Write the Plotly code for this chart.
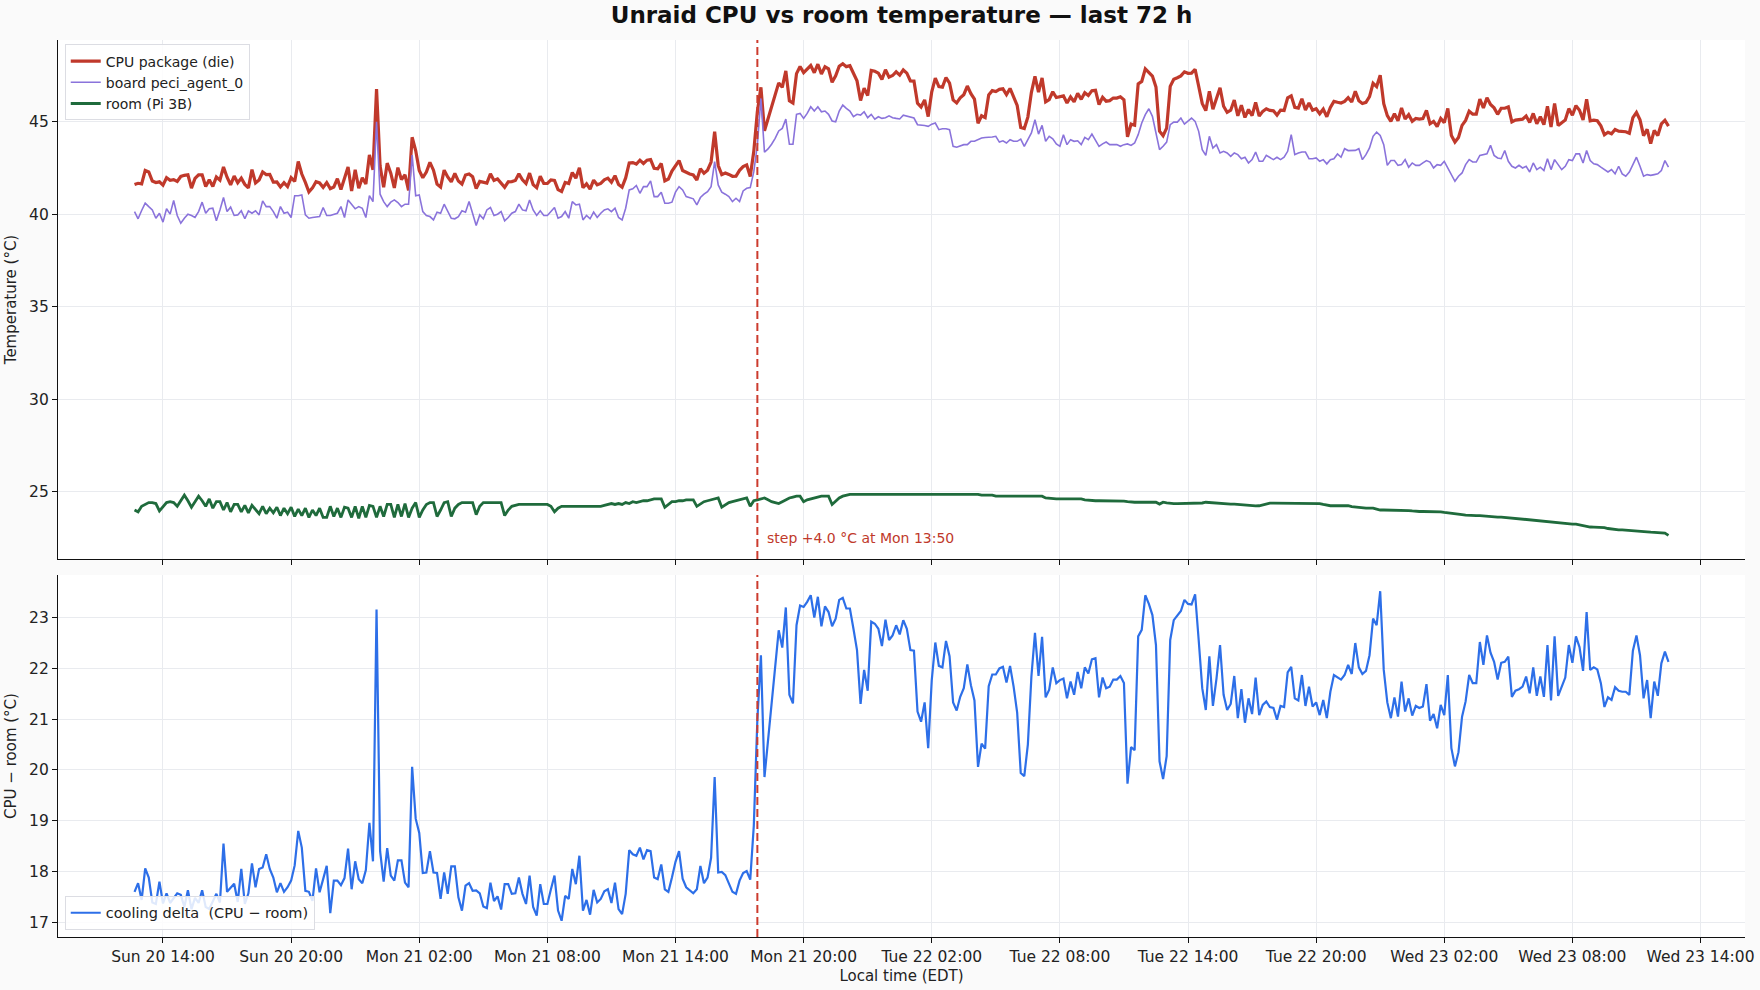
import pandas as pd
import plotly.graph_objects as go
from plotly.subplots import make_subplots

FONT = "DejaVu Sans"
START = "2025-07-20 12:40"     # first sample, local time (EDT)
SAMPLE = "10min"
STEP_AT = "2025-07-21 17:50"
STEP_LABEL = "step +4.0 °C at Mon 13:50"

# ── readings (°C), one every 10 min over 72 h ──
cpu_die_c = [
    41.6, 41.67, 41.64, 42.36, 42.28, 41.79, 41.71, 41.75, 41.57, 41.97, 41.83, 41.87,
    41.77, 42.04, 42.1, 42.13, 41.41, 41.93, 42.13, 42.13, 41.5, 41.86, 41.5, 42.01,
    41.84, 42.55, 42.0, 41.59, 42.06, 41.7, 41.95, 41.61, 41.42, 42.41, 41.69, 41.85,
    42.28, 42.14, 42.15, 41.73, 41.74, 41.47, 41.7, 41.49, 41.97, 41.77, 42.85, 42.17,
    41.72, 41.2, 41.42, 41.76, 41.69, 41.45, 41.71, 41.38, 41.47, 41.92, 41.33, 42.02,
    42.55, 41.25, 42.4, 41.4, 41.97, 41.63, 43.21, 42.4, 46.76, 42.6, 41.45, 42.76,
    42.22, 41.42, 42.52, 41.87, 42.13, 41.29, 44.16, 43.44, 42.36, 41.97, 42.28, 42.8,
    42.38, 41.62, 41.46, 42.38, 42.01, 41.75, 42.2, 41.79, 41.63, 42.12, 42.17, 42.02,
    41.38, 41.77, 41.71, 41.68, 42.18, 41.82, 41.91, 41.65, 41.45, 41.75, 41.76, 41.82,
    42.18, 41.86, 41.66, 42.22, 41.6, 41.43, 42.05, 41.66, 41.66, 41.85, 41.82, 41.33,
    41.23, 41.72, 41.66, 42.25, 41.95, 42.51, 41.43, 41.64, 41.35, 41.84, 41.59, 41.66,
    41.86, 41.95, 41.73, 42.08, 41.61, 41.46, 41.96, 42.77, 42.79, 42.71, 42.92, 42.74,
    42.92, 42.95, 42.48, 42.45, 42.74, 41.8, 41.9, 42.33, 42.64, 42.9, 42.36, 42.24,
    42.17, 42.12, 41.85, 42.46, 42.22, 42.38, 42.82, 44.46, 42.63, 42.14, 42.23, 42.15,
    42.05, 42.06, 42.37, 42.57, 42.66, 42.04, 43.4, 45.54, 46.86, 44.51, 45.14, 45.7,
    46.38, 47.1, 46.86, 47.75, 46.13, 46.01, 47.6, 47.99, 47.66, 47.86, 48.04, 47.65,
    48.11, 47.58, 47.97, 47.86, 47.13, 47.48, 48.0, 48.14, 47.98, 48.03, 47.63, 47.21,
    46.15, 46.82, 46.41, 47.77, 47.73, 47.63, 47.29, 47.81, 47.41, 47.5, 47.7, 47.52,
    47.8, 47.63, 47.21, 47.2, 46.0, 45.8, 46.18, 45.28, 46.62, 47.36, 46.9, 46.87,
    47.39, 47.09, 46.18, 46.02, 46.29, 46.46, 46.93, 46.52, 46.22, 44.91, 45.32, 45.22,
    46.45, 46.68, 46.63, 46.75, 46.78, 46.47, 46.8, 46.39, 45.88, 44.69, 44.63, 45.25,
    46.59, 47.45, 46.6, 47.37, 46.08, 46.2, 46.62, 46.31, 46.37, 46.4, 46.01, 46.34,
    46.08, 46.53, 46.21, 46.57, 46.42, 46.68, 46.7, 45.93, 46.32, 46.11, 46.14, 46.28,
    46.28, 46.35, 46.19, 44.18, 44.87, 44.81, 47.05, 47.18, 47.86, 47.69, 47.47, 46.88,
    44.49, 44.24, 44.65, 46.91, 47.3, 47.38, 47.48, 47.7, 47.62, 47.63, 47.84, 46.92,
    45.99, 45.6, 46.64, 45.68, 46.2, 46.84, 45.84, 45.51, 45.62, 46.17, 45.32, 45.89,
    45.23, 45.66, 45.33, 46.04, 45.31, 45.56, 45.7, 45.61, 45.59, 45.36, 45.63, 45.61,
    46.29, 46.4, 45.78, 45.74, 46.24, 45.63, 46.01, 45.62, 45.7, 45.43, 45.68, 45.27,
    45.77, 46.1, 46.05, 46.01, 46.1, 46.3, 46.07, 46.65, 46.14, 45.99, 46.05, 46.36,
    47.08, 46.9, 47.52, 45.97, 45.33, 45.02, 45.43, 45.05, 45.74, 45.15, 45.38, 45.02,
    45.18, 45.14, 45.17, 45.61, 44.89, 45.02, 44.74, 45.18, 44.95, 45.72, 44.26, 43.9,
    44.15, 44.8, 45.07, 45.57, 45.41, 45.41, 46.22, 45.75, 46.3, 45.93, 45.75, 45.4,
    45.73, 45.73, 45.8, 44.99, 45.09, 45.12, 45.14, 45.31, 44.96, 45.45, 44.89, 45.27,
    44.84, 45.83, 44.72, 45.98, 44.79, 44.95, 45.09, 45.71, 45.35, 45.87, 45.62, 45.1,
    46.21, 45.05, 45.09, 45.05, 44.78, 44.29, 44.43, 44.35, 44.58, 44.49, 44.47, 44.46,
    44.38, 45.22, 45.5, 45.1, 44.25, 44.59, 43.82, 44.53, 44.25, 44.88, 45.08, 44.76,
]

board_peci_c = [
    40.14, 39.75, 40.2, 40.6, 40.41, 40.23, 39.78, 40.05, 39.57, 40.29, 40.0, 40.74,
    39.93, 39.51, 39.78, 40.0, 39.93, 39.82, 40.14, 40.65, 40.05, 40.29, 40.32, 39.64,
    40.23, 40.9, 40.14, 40.38, 39.93, 39.96, 40.18, 39.75, 40.18, 40.05, 40.18, 39.96,
    40.72, 40.41, 40.41, 40.14, 39.78, 40.41, 40.05, 40.11, 39.82, 41.0, 41.0, 41.04,
    39.96, 39.78, 39.82, 39.85, 39.87, 40.36, 39.93, 39.93, 40.0, 40.05, 40.41, 39.82,
    40.77, 40.54, 40.29, 40.41, 40.32, 39.82, 41.0, 40.68, 45.0, 41.08, 40.68, 40.41,
    40.65, 40.77, 40.63, 40.41, 40.54, 40.54, 43.2, 41.0, 41.04, 40.14, 39.93, 39.87,
    39.69, 40.11, 40.05, 40.54, 40.18, 39.78, 39.75, 39.87, 40.18, 40.11, 40.68, 39.96,
    39.39, 39.96, 39.75, 40.23, 40.36, 39.93, 40.0, 40.14, 39.64, 39.82, 40.05, 40.14,
    40.54, 40.23, 40.18, 40.77, 40.23, 39.93, 40.18, 39.93, 39.93, 40.14, 40.36, 39.78,
    39.87, 40.14, 39.78, 40.68, 40.5, 40.54, 39.69, 39.93, 39.75, 40.11, 39.82, 40.05,
    40.23, 40.29, 40.14, 40.32, 39.82, 39.69, 40.32, 41.31, 41.37, 41.55, 41.13, 41.49,
    41.49, 41.8, 40.95, 40.95, 41.19, 40.59, 40.59, 40.65, 41.19, 41.49, 41.31, 40.95,
    40.9, 40.83, 40.5, 40.9, 41.08, 41.22, 41.49, 42.84, 41.58, 41.19, 41.08, 40.95,
    40.68, 40.86, 40.68, 41.26, 41.4, 41.44, 42.3, 43.74, 46.26, 43.35, 43.53, 43.78,
    44.1, 44.5, 44.64, 45.14, 43.78, 43.78, 45.4, 45.45, 45.18, 45.45, 45.81, 45.58,
    45.81, 45.54, 45.58, 45.4, 45.04, 45.0, 45.58, 45.9, 45.72, 45.58, 45.27, 45.4,
    45.36, 45.54, 45.22, 45.4, 45.14, 45.27, 45.18, 45.22, 45.32, 45.22, 45.18, 45.15,
    45.35, 45.3, 45.22, 45.2, 44.84, 44.84, 44.8, 44.75, 44.87, 44.93, 44.57, 44.62,
    44.62, 44.57, 43.67, 43.62, 43.67, 43.76, 43.76, 43.94, 43.94, 44.03, 44.12, 44.15,
    44.15, 44.17, 44.21, 43.9, 43.97, 43.85, 44.03, 43.94, 43.94, 44.06, 43.67, 44.03,
    44.39, 45.11, 44.33, 44.8, 43.94, 44.21, 44.08, 43.8, 43.67, 44.3, 43.76, 44.03,
    43.94, 43.97, 43.76, 44.15, 44.03, 44.33, 43.97, 43.67, 43.8, 43.9, 43.76, 43.76,
    43.76, 43.67, 43.76, 43.8, 43.72, 43.85, 44.3, 44.93, 45.38, 45.7, 45.29, 44.39,
    43.49, 43.67, 43.9, 44.84, 44.98, 44.98, 45.2, 44.87, 45.05, 45.2, 45.02, 44.48,
    43.49, 43.18, 44.21, 43.58, 43.76, 43.31, 43.4, 43.31, 43.13, 43.31, 43.22, 43.0,
    43.08, 42.77, 42.95, 43.36, 42.86, 42.86, 43.18, 43.08, 42.95, 43.08, 42.95, 43.08,
    43.4, 44.3, 43.22, 43.31, 43.36, 43.36, 43.0, 43.0, 43.04, 42.86, 42.95, 42.72,
    42.95, 43.0, 43.26, 43.08, 43.54, 43.44, 43.44, 43.45, 43.54, 42.95, 43.22, 43.58,
    44.21, 44.44, 44.26, 43.76, 42.64, 42.9, 42.9, 42.64, 42.68, 42.95, 42.54, 42.77,
    42.64, 42.64, 42.77, 42.9, 42.82, 42.5, 42.68, 42.64, 42.86, 42.5, 42.14, 41.78,
    42.05, 42.23, 42.68, 42.95, 42.82, 42.82, 43.18, 43.22, 43.26, 43.72, 43.18, 43.04,
    43.0, 43.44, 42.86, 42.59, 42.5, 42.64, 42.5, 42.59, 42.28, 42.77, 42.41, 42.54,
    42.36, 43.0, 42.41, 42.95, 42.68, 42.41, 42.59, 42.95, 42.9, 43.26, 43.26, 42.77,
    43.44, 42.9, 42.72, 42.68, 42.54, 42.41, 42.28, 42.41, 42.18, 42.59, 42.18, 42.05,
    42.28, 42.68, 43.08, 42.59, 42.05, 42.14, 42.1, 42.14, 42.18, 42.36, 42.9, 42.54,
]

room_pi_c = [
    24.0, 23.9, 24.2, 24.3, 24.4, 24.4, 24.35, 23.95, 24.2, 24.4, 24.45, 24.4,
    24.2, 24.5, 24.8, 24.5, 24.15, 24.45, 24.75, 24.5, 24.2, 24.6, 24.1, 24.45,
    24.45, 24.0, 24.4, 23.9, 24.3, 24.3, 23.9, 24.25, 23.85, 24.25, 24.0, 23.8,
    24.2, 23.8, 24.1, 23.85, 24.15, 23.7, 24.1, 23.8, 24.15, 23.65, 24.05, 23.7,
    24.1, 23.6, 24.0, 23.7, 24.1, 23.6, 23.6, 24.2, 23.65, 24.1, 23.6, 24.15,
    24.1, 23.6, 24.2, 23.55, 24.2, 23.6, 24.25, 24.2, 23.6, 24.2, 23.65, 24.3,
    24.3, 23.6, 24.3, 23.65, 24.35, 23.6, 24.1, 24.4, 23.6, 24.0, 24.3, 24.4,
    24.4, 23.65, 24.0, 24.4, 24.45, 23.65, 24.1, 24.3, 24.4, 24.4, 24.4, 24.4,
    23.75, 24.2, 24.4, 24.4, 24.4, 24.4, 24.4, 24.4, 23.7, 24.0, 24.2, 24.25,
    24.3, 24.3, 24.3, 24.3, 24.3, 24.3, 24.3, 24.3, 24.3, 24.2, 23.9, 24.1,
    24.2, 24.2, 24.2, 24.2, 24.2, 24.2, 24.2, 24.2, 24.2, 24.2, 24.2, 24.2,
    24.25, 24.3, 24.35, 24.3, 24.35, 24.3, 24.4, 24.35, 24.45, 24.4, 24.45, 24.5,
    24.5, 24.55, 24.6, 24.6, 24.6, 24.15, 24.3, 24.45, 24.45, 24.5, 24.5, 24.55,
    24.55, 24.55, 24.2, 24.35, 24.45, 24.5, 24.55, 24.6, 24.65, 24.15, 24.3, 24.4,
    24.45, 24.5, 24.55, 24.6, 24.65, 24.2, 24.5, 24.55, 24.6, 24.65, 24.55, 24.45,
    24.4, 24.35, 24.45, 24.55, 24.65, 24.7, 24.75, 24.75, 24.45, 24.55, 24.6, 24.65,
    24.7, 24.75, 24.75, 24.75, 24.3, 24.5, 24.65, 24.75, 24.8, 24.85, 24.85, 24.85,
    24.85, 24.85, 24.85, 24.85, 24.85, 24.85, 24.85, 24.85, 24.85, 24.85, 24.85, 24.85,
    24.85, 24.85, 24.85, 24.85, 24.85, 24.85, 24.85, 24.85, 24.85, 24.85, 24.85, 24.85,
    24.85, 24.85, 24.85, 24.85, 24.85, 24.85, 24.85, 24.85, 24.85, 24.85, 24.8, 24.8,
    24.8, 24.8, 24.75, 24.75, 24.75, 24.75, 24.75, 24.75, 24.75, 24.75, 24.75, 24.75,
    24.75, 24.75, 24.75, 24.75, 24.65, 24.62, 24.6, 24.6, 24.6, 24.6, 24.6, 24.6,
    24.6, 24.6, 24.6, 24.55, 24.52, 24.5, 24.5, 24.5, 24.5, 24.5, 24.5, 24.5,
    24.5, 24.5, 24.48, 24.45, 24.42, 24.42, 24.42, 24.42, 24.42, 24.42, 24.42, 24.42,
    24.32, 24.42, 24.38, 24.35, 24.35, 24.35, 24.35, 24.35, 24.35, 24.37, 24.38, 24.36,
    24.38, 24.42, 24.4, 24.42, 24.4, 24.38, 24.36, 24.33, 24.32, 24.32, 24.3, 24.3,
    24.3, 24.25, 24.23, 24.22, 24.23, 24.28, 24.35, 24.37, 24.37, 24.37, 24.37, 24.37,
    24.37, 24.37, 24.37, 24.37, 24.37, 24.37, 24.37, 24.37, 24.37, 24.35, 24.3, 24.25,
    24.23, 24.23, 24.23, 24.23, 24.23, 24.23, 24.18, 24.15, 24.12, 24.1, 24.1, 24.1,
    24.1, 24.05, 24.0, 24.0, 24.0, 24.0, 24.0, 24.0, 24.0, 24.0, 23.97, 23.95,
    23.92, 23.92, 23.92, 23.92, 23.92, 23.92, 23.92, 23.9, 23.87, 23.85, 23.83, 23.83,
    23.8, 23.75, 23.72, 23.7, 23.7, 23.7, 23.7, 23.68, 23.65, 23.62, 23.62, 23.62,
    23.62, 23.6, 23.57, 23.55, 23.53, 23.53, 23.5, 23.47, 23.45, 23.43, 23.43, 23.43,
    23.4, 23.37, 23.35, 23.35, 23.33, 23.3, 23.27, 23.25, 23.24, 23.24, 23.2, 23.15,
    23.1, 23.08, 23.07, 23.07, 23.07, 23.05, 23.0, 22.97, 22.95, 22.93, 22.93, 22.92,
    22.9, 22.87, 22.85, 22.84, 22.84, 22.82, 22.8, 22.79, 22.79, 22.78, 22.75, 22.63,
]

times = pd.date_range(START, periods=len(cpu_die_c), freq=SAMPLE)
cooling_delta = [round(c - r, 2) for c, r in zip(cpu_die_c, room_pi_c)]

CPU_COLOR = "#c0392b"
BOARD_COLOR = "#8a73db"
ROOM_COLOR = "#1f6b3c"
DELTA_COLOR = "#2d6fe8"
GRID = "#e9ebef"

fig = make_subplots(rows=2, cols=1, shared_xaxes=True)

fig.add_trace(go.Scatter(x=times, y=cpu_die_c, mode="lines", name="CPU package (die)",
                         line=dict(color=CPU_COLOR, width=3.2)), row=1, col=1)
fig.add_trace(go.Scatter(x=times, y=board_peci_c, mode="lines", name="board peci_agent_0",
                         line=dict(color=BOARD_COLOR, width=1.6)), row=1, col=1)
fig.add_trace(go.Scatter(x=times, y=room_pi_c, mode="lines", name="room (Pi 3B)",
                         line=dict(color=ROOM_COLOR, width=2.8)), row=1, col=1)
fig.add_trace(go.Scatter(x=times, y=cooling_delta, mode="lines",
                         name="cooling delta\u00a0 (CPU \u2212 room)", legend="legend2",
                         line=dict(color=DELTA_COLOR, width=2.2)), row=2, col=1)

# step marker in both panels
for yref in ("y domain", "y2 domain"):
    fig.add_shape(type="line", xref="x", yref=yref, x0=STEP_AT, x1=STEP_AT, y0=0, y1=1,
                  line=dict(color="#cc3b2e", width=2, dash="8px,4px"))
fig.add_annotation(x=STEP_AT, xref="x", y=0.04, yref="y domain", text=STEP_LABEL,
                   showarrow=False, xanchor="left", yanchor="middle", xshift=8,
                   font=dict(family=FONT, size=14, color=CPU_COLOR))

TICK_FONT = dict(family=FONT, size=15.5, color="#222")
LABEL_FONT = dict(family=FONT, size=15, color="#222")

axis_style = dict(showgrid=True, gridcolor=GRID, gridwidth=1, zeroline=False,
                  showline=True, linecolor="#111", linewidth=1.3, mirror=False,
                  ticks="outside", ticklen=5, tickwidth=1.2, tickcolor="#111",
                  tickfont=TICK_FONT, automargin=False)

x_style = dict(axis_style, range=["2025-07-20 09:05", "2025-07-23 16:05"],
               tick0="2025-07-20 02:00", dtick=6 * 3600 * 1000, tickformat="%a %d %H:%M")

fig.update_layout(
    width=1760, height=990,
    margin=dict(l=58, r=15, t=40, b=53),
    paper_bgcolor="#fafafa", plot_bgcolor="white",
    font=dict(family=FONT, size=14, color="#222"),
    title=dict(text="<b>Unraid CPU vs room temperature \u2014 last 72 h</b>",
               x=0.5, xref="paper", xanchor="center", y=1 - 15 / 990, yref="container",
               yanchor="middle", font=dict(family=FONT, size=23, color="#111")),
    xaxis=dict(x_style, showticklabels=False),
    xaxis2=dict(x_style, title=dict(text="Local time (EDT)", standoff=5, font=LABEL_FONT)),
    yaxis=dict(axis_style, domain=[0.4214, 1.0], range=[21.35, 49.42], dtick=5,
               title=dict(text="Temperature (°C)", standoff=8, font=LABEL_FONT)),
    yaxis2=dict(axis_style, domain=[0.0, 0.4036], range=[16.71, 23.84], dtick=1,
                title=dict(text="CPU \u2212 room (°C)", standoff=8, font=LABEL_FONT)),
    legend=dict(x=0.004, y=0.995, xanchor="left", yanchor="top",
                bgcolor="rgba(255,255,255,0.85)", bordercolor="#dcdde3", borderwidth=1,
                font=dict(family=FONT, size=14, color="#222"), tracegroupgap=0),
    legend2=dict(x=0.004, y=0.008, xanchor="left", yanchor="bottom",
                 bgcolor="rgba(255,255,255,0.85)", bordercolor="#dcdde3", borderwidth=1,
                 font=dict(family=FONT, size=14.5, color="#222")),
    hovermode="x unified",
)

# drop the default page margin so the figure sits flush in the window
fig.write_html("out.html", config={"displayModeBar": False},
               post_script="document.body.style.margin='0px';")
